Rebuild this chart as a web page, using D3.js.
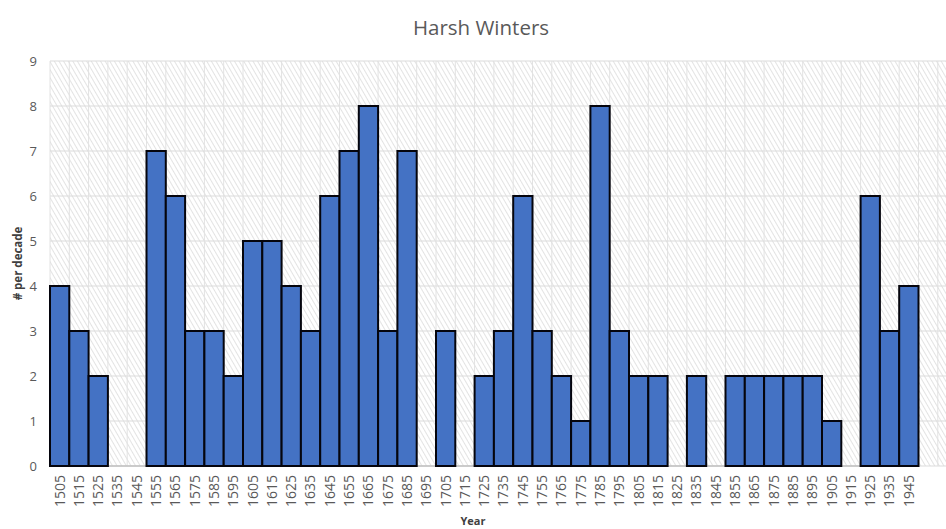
<!DOCTYPE html>
<html>
<head>
<meta charset="utf-8">
<script src="https://cdn.jsdelivr.net/npm/d3@7"></script>
<style>
  html, body { margin: 0; padding: 0; background: #fff; }
  svg { display: block; font-family: "Open Sans", "Liberation Sans", sans-serif; }
</style>
</head>
<body>
<svg id="chart" width="946" height="529"></svg>
<script>
// Harsh winters counted per decade, labelled by decade midpoint
const years = [1505, 1515, 1525, 1535, 1545, 1555, 1565, 1575, 1585, 1595,
               1605, 1615, 1625, 1635, 1645, 1655, 1665, 1675, 1685, 1695,
               1705, 1715, 1725, 1735, 1745, 1755, 1765, 1775, 1785, 1795,
               1805, 1815, 1825, 1835, 1845, 1855, 1865, 1875, 1885, 1895,
               1905, 1915, 1925, 1935, 1945];
const counts = [4, 3, 2, 0, 0, 7, 6, 3, 3, 2,
                5, 5, 4, 3, 6, 7, 8, 3, 7, 0,
                3, 0, 2, 3, 6, 3, 2, 1, 8, 3,
                2, 2, 0, 2, 0, 2, 2, 2, 2, 2,
                1, 0, 6, 3, 4];
const yTicks = [0, 1, 2, 3, 4, 5, 6, 7, 8, 9];

const svg = d3.select("#chart");
const plot = { left: 50, right: 946, top: 61, bottom: 466 };

const x = d3.scaleBand()
  .domain(years)
  .range([plot.left, 918.5])
  .padding(0);

const y = d3.scaleLinear()
  .domain([0, 9])
  .range([plot.bottom, plot.top]);

// diagonal hatch fill for the plot area
const defs = svg.append("defs");
const pat = defs.append("pattern")
  .attr("id", "hatch")
  .attr("patternUnits", "userSpaceOnUse")
  .attr("width", 4)
  .attr("height", 4)
  .attr("patternTransform", "rotate(-30)");
pat.append("rect").attr("width", 4).attr("height", 4).attr("fill", "#ffffff");
pat.append("line")
  .attr("x1", 0).attr("y1", 0).attr("x2", 0).attr("y2", 4)
  .attr("stroke", "#d4d4d4").attr("stroke-width", 1.3);

svg.append("rect")
  .attr("x", plot.left)
  .attr("y", plot.top)
  .attr("width", plot.right - plot.left)
  .attr("height", plot.bottom - plot.top)
  .attr("fill", "url(#hatch)");

// horizontal gridlines
svg.append("g")
  .selectAll("line")
  .data(yTicks)
  .join("line")
  .attr("x1", plot.left)
  .attr("x2", plot.right)
  .attr("y1", d => y(d))
  .attr("y2", d => y(d))
  .attr("stroke", "#dcdcdc")
  .attr("stroke-width", 1.2);

// vertical gridlines on category boundaries, continuing across the plot
const step = x.step();
const vLines = d3.range(plot.left, plot.right + 0.1, step);
svg.append("g")
  .selectAll("line")
  .data(vLines)
  .join("line")
  .attr("x1", d => d)
  .attr("x2", d => d)
  .attr("y1", plot.top)
  .attr("y2", plot.bottom)
  .attr("stroke", "#e2e2e2")
  .attr("stroke-width", 1);

// x axis line
svg.append("line")
  .attr("x1", plot.left)
  .attr("x2", x.range()[1])
  .attr("y1", y(0))
  .attr("y2", y(0))
  .attr("stroke", "#bfbfbf")
  .attr("stroke-width", 1.5);

// bars
svg.append("g")
  .selectAll("rect")
  .data(years.map((yr, i) => ({ yr, v: counts[i] })).filter(d => d.v > 0))
  .join("rect")
  .attr("x", d => x(d.yr))
  .attr("y", d => y(d.v))
  .attr("width", x.bandwidth())
  .attr("height", d => y(0) - y(d.v))
  .attr("fill", "#4472c4")
  .attr("stroke", "#05050d")
  .attr("stroke-width", 2);

// y axis labels
const yAxis = d3.axisLeft(y).tickValues(yTicks).tickSize(0).tickPadding(0);
const gy = svg.append("g")
  .attr("transform", `translate(37,0)`)
  .call(yAxis);
gy.select(".domain").remove();
gy.selectAll("text")
  .attr("fill", "#595959")
  .style("font-size", "13px")
  .style("font-family", "'Open Sans', sans-serif");

// x axis labels, rotated
const xAxis = d3.axisBottom(x).tickSize(0).tickPadding(0);
const gx = svg.append("g")
  .attr("transform", `translate(0,${plot.bottom})`)
  .call(xAxis);
gx.select(".domain").remove();
gx.selectAll("text")
  .attr("transform", "rotate(-90)")
  .attr("x", -9)
  .attr("y", 0)
  .attr("dy", "0.35em")
  .attr("text-anchor", "end")
  .attr("fill", "#595959")
  .style("font-size", "14px")
  .style("font-family", "'Open Sans', sans-serif");

// titles
svg.append("text")
  .attr("x", 481)
  .attr("y", 35)
  .attr("text-anchor", "middle")
  .attr("fill", "#595959")
  .style("font-size", "20.5px")
  .text("Harsh Winters");

svg.append("text")
  .attr("transform", `translate(22,${(plot.top + plot.bottom) / 2}) rotate(-90)`)
  .attr("text-anchor", "middle")
  .attr("fill", "#404040")
  .style("font-size", "11.5px")
  .style("font-weight", "bold")
  .text("# per decade");

svg.append("text")
  .attr("x", 473)
  .attr("y", 525)
  .attr("text-anchor", "middle")
  .attr("fill", "#404040")
  .style("font-size", "11px")
  .style("font-weight", "bold")
  .text("Year");
</script>
</body>
</html>
